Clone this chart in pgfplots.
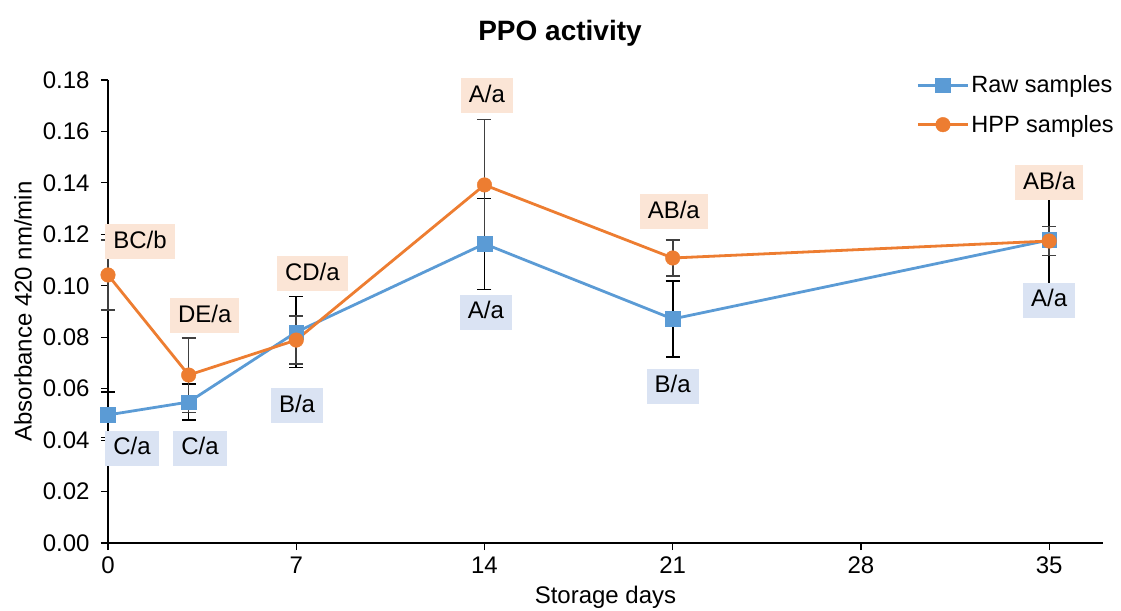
\documentclass[border=0pt]{standalone}
\usepackage{fontspec}
\setmainfont{Liberation Sans}
\usepackage{pgfplots}
\usepackage{pgfplotstable}
\pgfplotsset{compat=1.18}
\definecolor{rawblue}{HTML}{5B9BD5}
\definecolor{hpporange}{HTML}{ED7D31}
\definecolor{rawfill}{HTML}{DAE3F3}
\definecolor{hppfill}{HTML}{FBE5D6}
\definecolor{errgray}{HTML}{404040}

\pgfplotstableread{
x y e
0 0.0498 0.0088
3 0.0548 0.0070
7 0.0820 0.0138
14 0.1163 0.0177
21 0.0871 0.0148
35 0.1178 0.0195
}\rawdata
\pgfplotstableread{
x y e
0 0.1042 0.0136
3 0.0653 0.0145
7 0.0789 0.0094
14 0.1392 0.0255
21 0.1108 0.0070
35 0.1174 0.0056
}\hppdata

\begin{document}
\begin{tikzpicture}
\useasboundingbox (-108pt,-67pt) rectangle (1013pt,543pt);
\begin{axis}[
  at={(0,0)}, anchor=south west,
  scale only axis, width=995pt, height=463pt,
  xmin=0, xmax=37, ymin=0, ymax=0.18,
  axis lines*=left,
  axis line style={line width=1.2pt, black},
  xtick={0,7,14,21,28,35},
  ytick={0,0.02,0.04,0.06,0.08,0.10,0.12,0.14,0.16,0.18},
  tick align=outside, major tick length=7pt,
  tick style={line width=1.2pt, black},
  minor tick num=0,
  /pgf/number format/assume math mode=true,
  yticklabel style={/pgf/number format/fixed, /pgf/number format/fixed zerofill, /pgf/number format/precision=2, font=\fontsize{24}{28}\selectfont, xshift=-8pt},
  xticklabel style={font=\fontsize{24}{28}\selectfont, yshift=-3pt},
  scaled y ticks=false,
  xlabel={Storage days},
  ylabel={Absorbance 420 nm/min},
  xlabel style={font=\fontsize{24}{28}\selectfont, at={(axis description cs:0.5,-0.1166)}, anchor=center},
  ylabel style={font=\fontsize{24}{28}\selectfont, at={(axis description cs:-0.0854,0.5)}, anchor=center},
  legend style={at={(1.016,1.018)}, anchor=north east, draw=none, fill=none, font=\fontsize{23.5}{27}\selectfont, row sep=17pt},
  legend cell align=left,
  legend image code/.code={\draw[#1, mark repeat=2, mark phase=2] plot coordinates {(0pt,0pt) (25pt,0pt) (50pt,0pt)};},
  clip=false,
]
\addplot[color=rawblue, line width=2.8pt, mark=square*, mark size=7.3pt, mark options={fill=rawblue, draw=rawblue, line width=0.4pt, solid},
  error bars/.cd, y dir=both, y explicit,
  error bar style={line width=1.6pt, black, solid},
  error mark options={line width=1.6pt, black, mark size=7pt, solid, rotate=90}]
  table[x=x, y=y, y error=e] {\rawdata};
\addlegendentry{Raw samples}
\addplot[color=hpporange, line width=2.8pt, mark=*, mark size=7.3pt, mark options={fill=hpporange, draw=hpporange, line width=0.4pt, solid},
  error bars/.cd, y dir=both, y explicit,
  error bar style={line width=1.6pt, errgray, solid},
  error mark options={line width=1.6pt, errgray, mark size=7pt, solid, rotate=90}]
  table[x=x, y=y, y error=e] {\hppdata};
\addlegendentry{HPP samples}

\tikzset{lab/.style={font=\fontsize{24}{28}\selectfont, inner xsep=8pt, minimum height=35pt, text height=17pt, text depth=4pt}}
\node[lab, fill=hppfill] at (axis cs:1.19,0.1171) {BC/b};
\node[lab, fill=hppfill] at (axis cs:3.6,0.0883) {DE/a};
\node[lab, fill=hppfill] at (axis cs:7.6,0.1046) {CD/a};
\node[lab, fill=hppfill] at (axis cs:14.09,0.1738) {A/a};
\node[lab, fill=hppfill] at (axis cs:21.04,0.1287) {AB/a};
\node[lab, fill=hppfill] at (axis cs:35.0,0.1400) {AB/a};
\node[lab, fill=rawfill] at (axis cs:0.89,0.0369) {C/a};
\node[lab, fill=rawfill] at (axis cs:3.42,0.0369) {C/a};
\node[lab, fill=rawfill] at (axis cs:7.03,0.0533) {B/a};
\node[lab, fill=rawfill] at (axis cs:14.05,0.0898) {A/a};
\node[lab, fill=rawfill] at (axis cs:21.0,0.0610) {B/a};
\node[lab, fill=rawfill] at (axis cs:35.0,0.0944) {A/a};
\end{axis}
\node[font=\bfseries\fontsize{28}{32}\selectfont] at (452pt,510pt) {PPO activity};
\end{tikzpicture}
\end{document}
